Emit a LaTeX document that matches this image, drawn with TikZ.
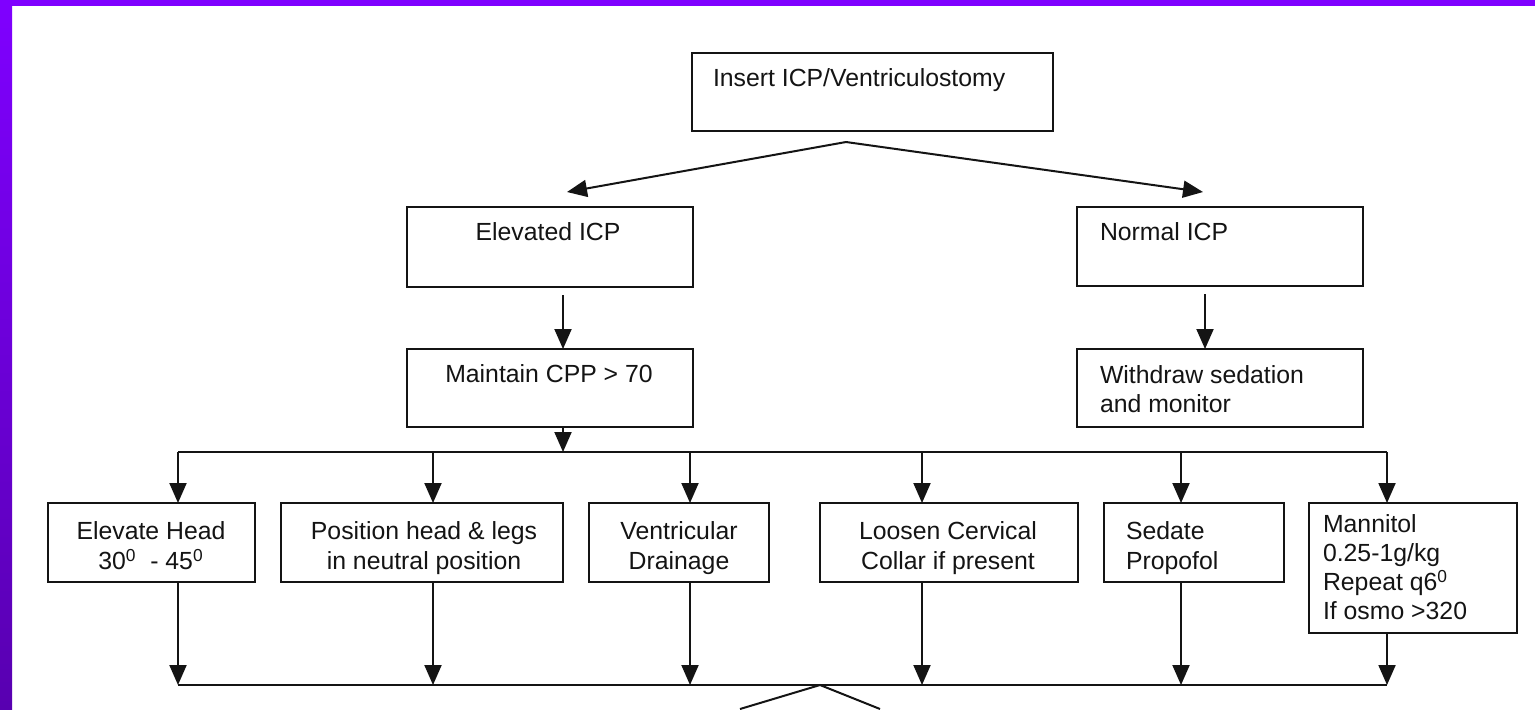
\documentclass[tikz,border=0pt]{standalone}
\usepackage{fontspec}
\setmainfont{Liberation Sans}
\usetikzlibrary{arrows.meta}
\definecolor{violetA}{RGB}{127,0,255}
\definecolor{violetB}{RGB}{88,0,176}
\definecolor{ink}{RGB}{20,20,20}
\begin{document}
\begin{tikzpicture}[x=0.5pt,y=-0.5pt,
  font=\fontsize{12.4}{15}\selectfont,
  box/.style={draw=ink, line width=1.2pt, inner sep=0pt, outer sep=0pt, fill=white},
  txt/.style={inner sep=0pt, outer sep=0pt, text=ink},
  conn/.style={draw=ink, line width=1pt},
  arr/.style={conn, -{Triangle[width=8.5pt,length=10pt]}}]
\useasboundingbox (0,0) rectangle (1535,709);
\fill[white] (0,0) rectangle (1535,709);
\shade[top color=violetA,bottom color=violetB] (0,0) rectangle (12,709);
\fill[violetA] (0,0) rectangle (1535,6);

% boxes
\node[box, minimum width=180.5pt, minimum height=39pt] (insert) at (872.5,92) {};
\node[box, minimum width=143pt, minimum height=40pt] (elev) at (550,247) {};
\node[box, minimum width=143pt, minimum height=39pt] (maint) at (550,388) {};
\node[box, minimum width=143pt, minimum height=39.5pt] (normal) at (1220,246.5) {};
\node[box, minimum width=143pt, minimum height=39pt] (withdraw) at (1220,388) {};
\node[box, minimum width=103.5pt, minimum height=39.5pt] (b1) at (151.5,542.5) {};
\node[box, minimum width=141pt, minimum height=39.5pt] (b2) at (422,542.5) {};
\node[box, minimum width=90pt, minimum height=39.5pt] (b3) at (679,542.5) {};
\node[box, minimum width=129pt, minimum height=39.5pt] (b4) at (949,542.5) {};
\node[box, minimum width=90pt, minimum height=39.5pt] (b5) at (1194,542.5) {};
\node[box, minimum width=104pt, minimum height=65pt] (b6) at (1413,568) {};

% texts
\node[txt, anchor=north west] (insertT) at (713,69) {Insert ICP/Ventriculostomy};
\node[txt, anchor=north] (elevT) at (548,223) {Elevated ICP};
\node[txt, anchor=north] (maintT) at (549,365) {Maintain CPP > 70};
\node[txt, anchor=north west] (normalT) at (1100,223) {Normal ICP};
\node[txt, anchor=north west, align=left, font=\fontsize{12.4}{14.5}\selectfont] (withdrawT) at (1100,366) {Withdraw sedation\\and monitor};
\node[txt, anchor=north, align=center] (b1T) at (151,522) {Elevate Head\\30\textsuperscript{0}\ \ - 45\textsuperscript{0}};
\node[txt, anchor=north, align=center] (b2T) at (424,522) {Position head \& legs\\in neutral position};
\node[txt, anchor=north, align=center] (b3T) at (679,522) {Ventricular\\Drainage};
\node[txt, anchor=north, align=center] (b4T) at (948,522) {Loosen Cervical\\Collar if present};
\node[txt, anchor=north west, align=left] (b5T) at (1126,522) {Sedate\\Propofol};
\node[txt, anchor=north west, align=left, font=\fontsize{12.4}{14.5}\selectfont] (b6T) at (1323,515) {Mannitol\\0.25-1g/kg\\Repeat q6\textsuperscript{0}\\If osmo >320};

% top split
\coordinate (apex) at (846,142);
\coordinate (tipL) at (567,192);
\coordinate (tipR) at (1203,192);
\draw[arr] (apex) -- (tipL);
\draw[arr] (apex) -- (tipR);

% column arrows
\draw[arr] ([xshift=6.5pt,yshift=-4pt]elev.south) -- ([xshift=6.5pt]maint.north);
\draw[arr] ([xshift=-7.5pt,yshift=-4pt]normal.south) -- ([xshift=-7.5pt]withdraw.north);

% buses
\foreach \i/\x in {1/178,2/433,3/690,4/922,5/1181,6/1387}{
  \coordinate (u\i) at (\x,452);
  \coordinate (d\i) at (\x,685);
}
\coordinate (um) at (563,452);
\draw[arr] (maint.south -| um) -- (um);
\draw[conn] (u1) -- (u6);
\foreach \i in {1,...,6}{
  \draw[arr] (u\i) -- (b\i.north -| u\i);
  \draw[arr] (b\i.south -| d\i) -- (d\i);
}
\draw[conn, line width=1.3pt] (d1) -- (d6);
\coordinate (v0) at (820,685);
\coordinate (vL) at (740,709);
\coordinate (vR) at (880,709);
\draw[conn] (vL) -- (v0) -- (vR);
\end{tikzpicture}
\end{document}
